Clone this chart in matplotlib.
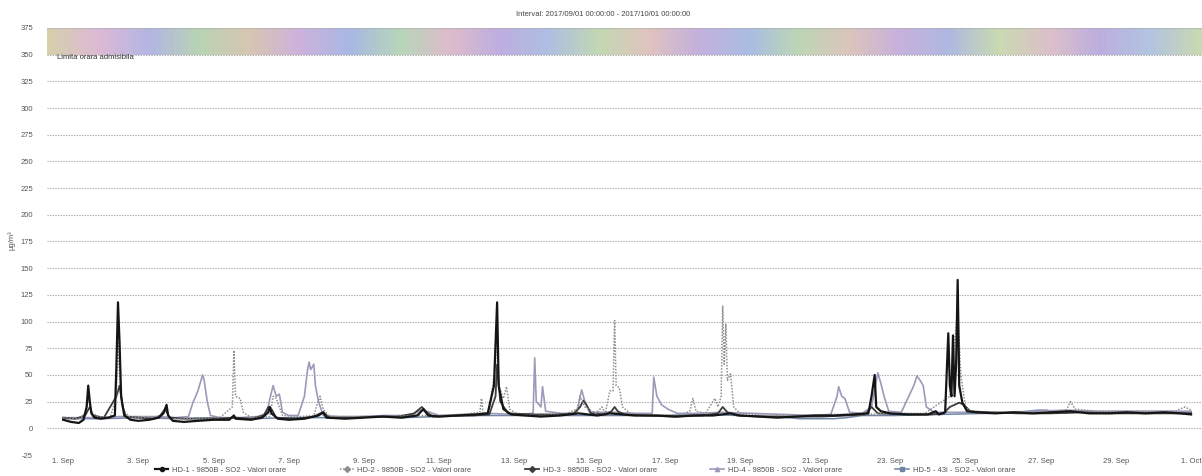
import numpy as np
import matplotlib
matplotlib.use('Agg')
import matplotlib.pyplot as plt
from matplotlib.colors import LinearSegmentedColormap
from matplotlib.lines import Line2D

plt.rcParams['font.family'] = ['Liberation Sans', 'DejaVu Sans']

# ---------------- data ----------------
title_text = "Interval: 2017/09/01 00:00:00 - 2017/10/01 00:00:00"
band_label = "Limita orara admisibila"
y_label = "µg/m³"
band_low, band_high = 350, 375
y_ticks = list(range(-25, 376, 25))
x_tick_days = list(range(0, 31, 2))
x_tick_labels = ["1. Sep", "3. Sep", "5. Sep", "7. Sep", "9. Sep", "11. Sep",
                 "13. Sep", "15. Sep", "17. Sep", "19. Sep", "21. Sep", "23. Sep",
                 "25. Sep", "27. Sep", "29. Sep", "1. Oct"]
series_names = ["HD-1 - 9850B - SO2 - Valori orare",
                "HD-2 - 9850B - SO2 - Valori orare",
                "HD-3 - 9850B - SO2 - Valori orare",
                "HD-4 - 9850B - SO2 - Valori orare",
                "HD-5 - 43i - SO2 - Valori orare"]

# hours since 2017-09-01 00:00 and hourly values (µg/m³)
hd1_hours = [0, 5, 10, 13, 15, 16, 17, 18, 20, 24, 29, 33, 34, 35, 36, 37, 39, 43, 48, 55,
             61, 64, 66, 67, 70, 77, 86, 96, 106, 109, 110, 120, 127, 131, 132, 133, 137, 144,
             154, 163, 166, 168, 180, 192, 204, 216, 226, 230, 233, 240, 252, 264, 271, 275,
             277, 278, 281, 286, 295, 305, 317, 329, 341, 349, 365, 379, 391, 403, 415, 426,
             432, 444, 456, 468, 480, 492, 504, 514, 516, 518, 519, 522, 528, 540, 552, 557,
             559, 563, 565, 566, 567, 568, 569, 570, 571, 572, 574, 577, 583, 595, 607, 619,
             631, 643, 655, 667, 679, 691, 703, 713, 720]
hd1_vals = [8, 6, 5, 8, 20, 40, 25, 14, 10, 9, 10, 12, 60, 118, 80, 30, 12, 8, 7, 8,
            10, 14, 22, 12, 7, 6, 7, 8, 8, 12, 9, 8, 10, 15, 20, 14, 9, 8,
            9, 12, 15, 10, 9, 10, 11, 10, 12, 18, 12, 11, 12, 13, 14, 40,
            118, 40, 18, 13, 12, 11, 12, 14, 12, 14, 12, 12, 11, 12, 12, 14,
            12, 11, 10, 11, 12, 12, 13, 14, 30, 50, 20, 16, 14, 13, 13, 16,
            13, 15, 89, 40, 30, 87, 30, 60, 139, 40, 24, 16, 15, 14, 15, 14,
            15, 16, 14, 14, 15, 14, 15, 14, 13]

hd2_hours = [0, 10, 14, 16, 18, 22, 30, 34, 35, 36, 38, 42, 50, 60, 70, 84, 100, 108, 109,
             110, 113, 115, 120, 132, 134, 136, 140, 152, 160, 162, 164, 166, 170, 190, 210,
             225, 240, 255, 266, 267, 268, 272, 276, 277, 278, 281, 283, 285, 290, 305, 320,
             328, 330, 333, 340, 344, 346, 349, 351, 352, 353, 355, 357, 362, 380, 395, 400,
             402, 404, 410, 416, 418, 420, 421, 422, 423, 424, 426, 428, 432, 450, 470, 490,
             510, 530, 550, 566, 569, 571, 573, 576, 580, 600, 620, 640, 643, 646, 660, 690,
             710, 716, 720]
hd2_vals = [10, 9, 14, 30, 15, 11, 10, 30, 80, 50, 18, 11, 10, 11, 9, 9, 10, 20, 73,
            30, 28, 15, 10, 11, 30, 28, 12, 11, 12, 22, 30, 18, 11, 11, 11,
            12, 12, 13, 15, 28, 14, 16, 60, 100, 40, 28, 39, 18, 13, 12, 13,
            18, 30, 20, 14, 20, 14, 35, 35, 101, 40, 38, 20, 14, 12, 13, 16,
            28, 16, 14, 28, 20, 30, 115, 60, 98, 45, 51, 20, 14, 12, 12, 13,
            13, 14, 14, 30, 80, 110, 50, 20, 15, 15, 15, 16, 25, 18, 16, 16,
            16, 20, 17]

hd3_hours = [0, 8, 14, 17, 19, 26, 34, 36, 38, 40, 48, 58, 62, 65, 68, 78, 96, 110, 120,
             128, 131, 133, 136, 148, 160, 164, 166, 170, 186, 200, 214, 224, 229, 232,
             236, 250, 262, 272, 276, 277, 279, 284, 300, 316, 326, 330, 332, 334, 337,
             346, 350, 352, 354, 358, 372, 390, 408, 418, 421, 424, 430, 446, 464, 484,
             500, 512, 516, 520, 536, 554, 562, 566, 572, 575, 579, 590, 610, 630, 650,
             670, 690, 710, 720]
hd3_vals = [10, 9, 12, 20, 12, 10, 30, 40, 20, 11, 10, 9, 12, 18, 10, 9, 9, 10, 9,
            12, 20, 18, 10, 9, 11, 14, 15, 10, 10, 11, 11, 14, 20, 15,
            11, 12, 12, 13, 30, 60, 25, 14, 13, 13, 14, 20, 26, 22, 14,
            13, 16, 20, 16, 13, 12, 11, 12, 14, 20, 15, 12, 11, 11, 11,
            12, 13, 20, 14, 13, 13, 14, 20, 24, 22, 16, 15, 14, 14, 15,
            14, 14, 14, 14]

hd4_hours = [0, 12, 24, 36, 48, 60, 72, 80, 83, 84, 86, 89, 90, 92, 94, 100, 112, 124,
             130, 132, 134, 136, 138, 140, 144, 150, 154, 156, 157, 158, 160, 161, 163,
             166, 176, 190, 205, 222, 228, 232, 240, 255, 270, 290, 300, 301, 302, 305,
             306, 308, 318, 328, 330, 331, 333, 336, 350, 365, 376, 377, 379, 382, 386,
             392, 405, 420, 440, 460, 480, 490, 494, 495, 497, 499, 502, 510, 516, 520,
             522, 524, 527, 535, 543, 545, 547, 549, 551, 556, 570, 580, 600, 620, 640,
             660, 680, 700, 720]
hd4_vals = [10, 10, 10, 11, 11, 11, 10, 11, 25, 28, 35, 50, 45, 25, 12, 10, 10, 11,
            14, 28, 40, 30, 32, 15, 12, 12, 30, 55, 62, 55, 60, 40, 25,
            12, 11, 11, 12, 12, 17, 16, 12, 13, 14, 13, 14, 66, 25, 20,
            39, 16, 14, 14, 30, 36, 25, 15, 15, 14, 14, 48, 30, 22, 18,
            14, 14, 15, 14, 13, 12, 13, 30, 39, 30, 28, 15, 14, 20, 52,
            42, 30, 16, 15, 40, 49, 45, 40, 20, 15, 15, 15, 15, 16, 17,
            16, 16, 16, 16]

hd5_hours = [0, 24, 48, 72, 96, 120, 144, 168, 192, 216, 240, 264, 288, 312, 336, 360,
             384, 408, 432, 456, 470, 480, 492, 500, 510, 530, 560, 590, 610, 622, 628,
             634, 650, 680, 700, 720]
hd5_vals = [9, 9, 10, 9, 10, 9, 10, 10, 11, 10, 11, 12, 12, 12, 12, 12,
            12, 13, 12, 11, 9, 9, 9, 10, 12, 12, 13, 14, 15, 17, 17,
            14, 15, 15, 15, 15]

band_colors = ['#d6cfae', '#dcb9d6', '#b3b6e3', '#b9d3b4', '#d8c6b2', '#cdb2dc',
               '#a9b8e4', '#b7d6b9', '#ddbccb', '#bfaee0', '#aebfe2', '#c3d8b2',
               '#e0c3c0', '#c4b0de', '#a9bde3', '#bed6b5', '#dcc5bc', '#c7b1dd',
               '#aeb9e1', '#c9dab0', '#ddc0c9', '#bcaedf', '#b2c4e0', '#c8d8b4']

# ---------------- figure ----------------
W, H = 1202, 476
fig = plt.figure(figsize=(W / 100, H / 100), dpi=100)
ax = fig.add_axes([47 / W, 21 / H, (W - 47) / W, 427 / H])
ax.set_xlim(-0.43, 30.29)
ax.set_ylim(-25, 375)

# plot band (rainbow scan effect)
cmap = LinearSegmentedColormap.from_list('band', band_colors)
grad = np.linspace(0, 1, 800)[None, :]
ax.imshow(grad, cmap=cmap, aspect='auto', extent=(-0.43, 30.29, band_low, band_high),
          zorder=0.5, interpolation='bilinear')
ax.text(-0.16, 347, band_label, fontsize=5.5, color='#333333', ha='left', va='center')

# grid
for yv in y_ticks:
    ax.axhline(yv, color='#a8a8a8', lw=0.8, ls=(0, (1.2, 1.2)), zorder=1)

styles = [
    dict(color='#151515', lw=1.6, ls='-', marker='o'),
    dict(color='#8e8e8e', lw=1.1, ls=(0, (1, 1)), marker='D'),
    dict(color='#3c3c3c', lw=1.3, ls='-', marker='D'),
    dict(color='#9d99bb', lw=1.2, ls='-', marker='^'),
    dict(color='#6f84a6', lw=1.1, ls='-', marker='s'),
]
all_hours = [hd1_hours, hd2_hours, hd3_hours, hd4_hours, hd5_hours]
all_vals = [hd1_vals, hd2_vals, hd3_vals, hd4_vals, hd5_vals]
order = [4, 3, 2, 1, 0]
for i in order:
    st = styles[i]
    ax.plot(np.array(all_hours[i]) / 24.0, all_vals[i], color=st['color'], lw=st['lw'],
            ls=st['ls'], zorder=3 + (4 - i) * 0.1 if i != 0 else 4)

# axes style
for s in ax.spines.values():
    s.set_visible(False)
ax.set_yticks(y_ticks)
ax.set_yticklabels([str(v) for v in y_ticks])
ax.set_xticks(x_tick_days)
ax.set_xticklabels(x_tick_labels)
ax.tick_params(axis='y', length=0, pad=10, labelsize=5.5, labelcolor='#555555')
ax.tick_params(axis='x', length=0, pad=2, labelsize=5.5, labelcolor='#555555')

fig.text(603 / W, 1 - 15 / H, title_text, fontsize=5.5, color='#444444', ha='center', va='center')
fig.text(12 / W, 1 - 240 / H, y_label, fontsize=5.5, color='#555555', rotation=90,
         ha='center', va='center')

handles = [Line2D([0], [0], color=st['color'], lw=st['lw'], ls=st['ls'], marker=st['marker'],
                  markersize=3) for st in styles]
fig.legend(handles, series_names, loc='center', bbox_to_anchor=(585 / W, 1 - 470 / H), ncol=5,
           fontsize=5.5, frameon=False, columnspacing=7.0, handlelength=1.8, handletextpad=0.5,
           labelcolor='#555555', borderaxespad=0, borderpad=0)

fig.savefig('out.png', dpi=100)
